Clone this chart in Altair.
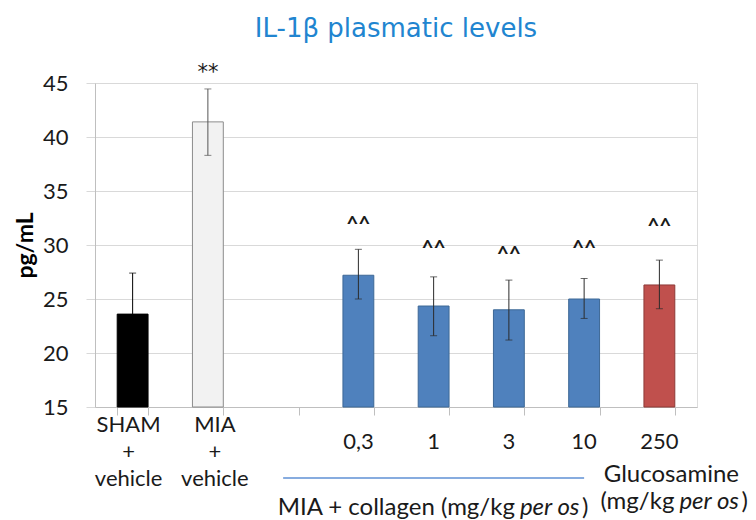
import altair as alt
import pandas as pd

# ---- data ----
categories = ["SHAM", "MIA", "gap", "0,3", "1", "3", "10", "250"]
bar_groups = ["SHAM", "MIA", "0,3", "1", "3", "10", "250"]
means = [23.6, 41.4, 27.2, 24.35, 24.0, 25.0, 26.3]
err_low = [19.8, 38.3, 25.0, 21.6, 21.2, 23.2, 24.1]
err_high = [27.4, 44.45, 29.6, 27.05, 26.75, 26.9, 28.6]
fill_colors = ["#000000", "#f2f2f2", "#4f81bd", "#4f81bd", "#4f81bd", "#4f81bd", "#c0504d"]
stroke_colors = ["#000000", "#8c8c8c", "#3d6896", "#3d6896", "#3d6896", "#3d6896", "#8e3a37"]
err_colors = ["#000000", "#555555", "#2b2b2b", "#2b2b2b", "#2b2b2b", "#2b2b2b", "#2b2b2b"]
star_groups = ["MIA"]
star_text = ["**"]
star_pos = [46.3]
caret_groups = ["0,3", "1", "3", "10", "250"]
caret_text = ["^^", "^^", "^^", "^^", "^^"]
caret_pos = [32.3, 30.1, 29.5, 30.1, 32.1]

two_line_groups = ["SHAM", "MIA"]
two_line_labels = ["SHAM\n+\nvehicle", "MIA\n+\nvehicle"]
dose_groups = ["0,3", "1", "3", "10", "250"]
dose_labels = ["0,3", "1", "3", "10", "250"]

FONT = "Lato"
TXT = "#1a1a1a"
CAP = 24

bars = pd.DataFrame({"group": bar_groups, "mean": means, "low": err_low, "high": err_high})
x_enc = alt.X(
    "group:N",
    scale=alt.Scale(domain=categories, paddingInner=0.59, paddingOuter=0.295),
    axis=alt.Axis(labels=False, title=None, tickBand="extent", tickSize=8,
                  tickColor="#bfbfbf", domainColor="#bfbfbf", grid=False),
)
y_scale = alt.Scale(domain=[15, 45], nice=False, zero=False)
err_color = alt.Color("group:N", scale=alt.Scale(domain=bar_groups, range=err_colors), legend=None)

base = alt.Chart(bars)

bar_layer = base.mark_bar(strokeWidth=1).encode(
    x=x_enc,
    y=alt.Y("mean:Q", scale=y_scale,
            axis=alt.Axis(values=[15, 20, 25, 30, 35, 40, 45], grid=True,
                          gridColor="#d9d9d9", tickColor="#d9d9d9", tickSize=9,
                          domainColor="#bfbfbf", labelFont=FONT, labelFontSize=22,
                          labelColor=TXT, labelPadding=18,
                          title="pg/mL", titleFont=FONT, titleFontSize=23,
                          titleFontWeight="bold", titleColor="#000000", titlePadding=5)),
    y2=alt.datum(15),
    fill=alt.Fill("group:N", scale=alt.Scale(domain=bar_groups, range=fill_colors), legend=None),
    stroke=alt.Stroke("group:N", scale=alt.Scale(domain=bar_groups, range=stroke_colors), legend=None),
)

err_rule = base.mark_rule(strokeWidth=1).encode(
    x=alt.X("group:N"), y="low:Q", y2="high:Q", color=err_color)
cap_hi = base.mark_tick(thickness=1, size=7, orient="horizontal").encode(
    x=alt.X("group:N"), y="high:Q", color=err_color)
cap_lo = base.mark_tick(thickness=1, size=7, orient="horizontal").encode(
    x=alt.X("group:N"), y="low:Q", color=err_color)

stars = pd.DataFrame({"group": star_groups, "t": star_text, "y": star_pos})
star_layer = alt.Chart(stars).mark_text(font="DejaVu Sans", fontSize=21, color=TXT,
                                         baseline="middle", dy=4).encode(
    x=alt.X("group:N"), y="y:Q", text="t:N")
carets = pd.DataFrame({"group": caret_groups, "t": caret_text, "y": caret_pos})
caret_layer = alt.Chart(carets).mark_text(font=FONT, fontSize=21, fontWeight="bold", color=TXT,
                                           baseline="middle", dy=5).encode(
    x=alt.X("group:N"), y="y:Q", text="t:N")

# category labels
lab2 = pd.DataFrame({"group": two_line_groups, "label": two_line_labels})
lab2_sham = alt.Chart(lab2[lab2.group == "SHAM"]).mark_text(
    font=FONT, fontSize=22, color=TXT, baseline="middle", lineBreak="\n",
    lineHeight=27, dx=-4).encode(x=alt.X("group:N"), y=alt.value(342), text="label:N")
lab2_mia = alt.Chart(lab2[lab2.group == "MIA"]).mark_text(
    font=FONT, fontSize=22, color=TXT, baseline="middle", lineBreak="\n",
    lineHeight=27, dx=7).encode(x=alt.X("group:N"), y=alt.value(342), text="label:N")

lab1 = pd.DataFrame({"group": dose_groups, "label": dose_labels})
lab1_layer = alt.Chart(lab1).mark_text(font=FONT, fontSize=22, color=TXT,
                                        baseline="middle").encode(
    x=alt.X("group:N"), y=alt.value(359), text="label:N")

# group bracket line under the collagen doses
bracket = pd.DataFrame({"start": ["gap"], "end": ["10"]})
bracket_layer = alt.Chart(bracket).mark_rule(color="#5f90d4", strokeWidth=1.4).encode(
    x=alt.X("start:N"), x2="end:N", y=alt.value(395))

# group captions
gtxt = pd.DataFrame({"group": ["3"], "a": ["MIA + collagen (mg/kg"], "b": ["per os"], "c": [")"]})
col_a = alt.Chart(gtxt).mark_text(font=FONT, fontSize=CAP, color=TXT, align="right",
                                   baseline="middle", dx=6).encode(
    x=alt.X("group:N"), y=alt.value(425), text="a:N")
col_b = alt.Chart(gtxt).mark_text(font=FONT, fontSize=CAP, color=TXT, align="left",
                                   baseline="middle", fontStyle="italic", dx=11).encode(
    x=alt.X("group:N"), y=alt.value(425), text="b:N")
col_c = alt.Chart(gtxt).mark_text(font=FONT, fontSize=CAP, color=TXT, align="left",
                                   baseline="middle", dx=73).encode(
    x=alt.X("group:N"), y=alt.value(425), text="c:N")

gl = pd.DataFrame({"group": ["250"], "t": ["Glucosamine"], "a": ["(mg/kg"], "b": ["per os"], "c": [")"]})
glu_t = alt.Chart(gl).mark_text(font=FONT, fontSize=CAP, color=TXT, baseline="middle",
                                 dx=12).encode(x=alt.X("group:N"), y=alt.value(392), text="t:N")
glu_a = alt.Chart(gl).mark_text(font=FONT, fontSize=CAP, color=TXT, align="right",
                                 baseline="middle", dx=15).encode(
    x=alt.X("group:N"), y=alt.value(419), text="a:N")
glu_b = alt.Chart(gl).mark_text(font=FONT, fontSize=CAP, color=TXT, align="left",
                                 baseline="middle", fontStyle="italic", dx=20).encode(
    x=alt.X("group:N"), y=alt.value(419), text="b:N")
glu_c = alt.Chart(gl).mark_text(font=FONT, fontSize=CAP, color=TXT, align="left",
                                 baseline="middle", dx=82).encode(
    x=alt.X("group:N"), y=alt.value(419), text="c:N")

chart = alt.layer(
    bar_layer, err_rule, cap_hi, cap_lo, star_layer, caret_layer,
    lab2_sham, lab2_mia, lab1_layer, bracket_layer,
    col_a, col_b, col_c, glu_t, glu_a, glu_b, glu_c,
).properties(
    width=602, height=324,
    title=alt.TitleParams("IL-1β plasmatic levels", font="DejaVu Sans", fontSize=26,
                          fontWeight="normal", color="#2185d0", anchor="middle", offset=20),
    autosize=alt.AutoSizeParams(type="none"),
    padding={"left": 87, "top": 75, "right": 51, "bottom": 113},
).configure_view(stroke=None).configure(background="white")

chart.save("out.html", embed_options={"renderer": "svg", "actions": False})
